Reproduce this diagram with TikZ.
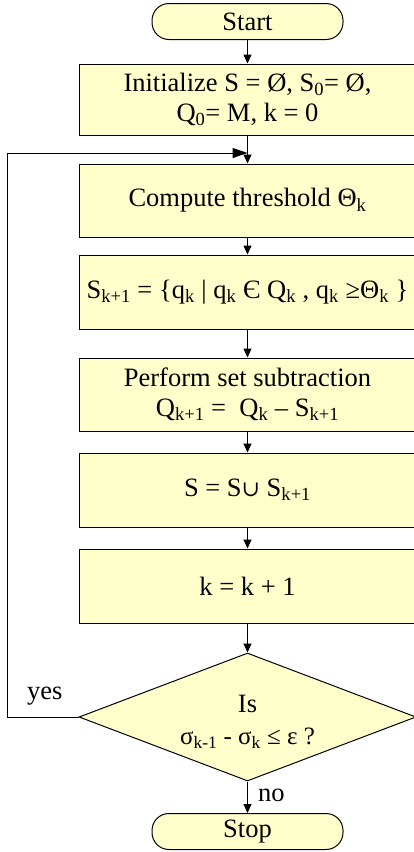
\documentclass[tikz,border=0pt]{standalone}
\usepackage{fontspec}
\setmainfont{Liberation Serif}
\newfontfamily\dvs{DejaVu Serif}
\usetikzlibrary{shapes.geometric,arrows.meta}
\definecolor{boxfill}{HTML}{FFFFCC}
\newcommand\sbs[1]{\textsubscript{#1}}
\begin{document}
\begin{tikzpicture}[x=1pt,y=-1pt,
  every node/.style={font=\fontsize{26.5}{30}\selectfont},
  procbox/.style={draw, fill=boxfill, line width=1pt, minimum width=337pt, align=center, inner sep=0pt},
  termbox/.style={draw, fill=boxfill, line width=1pt, rounded corners=17pt, minimum width=191pt, minimum height=36pt, inner sep=0pt},
  decbox/.style={draw, fill=boxfill, line width=1pt, diamond, aspect=2.625, minimum width=337pt, minimum height=128pt, inner sep=0pt, align=center},
  flow/.style={line width=1pt, -{Triangle[length=9pt,width=8pt]}},
  loopflow/.style={line width=1pt, -{Triangle[length=15pt,width=10pt]}},
  lbl/.style={inner sep=0pt}
]
\useasboundingbox (0,0) rectangle (414,852);
\clip (0,0) rectangle (414,852);
\node[termbox] (start) at (247.5,21.5) {Start};
\node[procbox, minimum height=71pt] (init) at (247.5,99.5) {Initialize S = Ø, S\sbs{0}= Ø,\\ Q\sbs{0}= M, k = 0};
\node[procbox, minimum height=73pt] (comp) at (247.5,200.5) {Compute threshold Θ\sbs{k}};
\node[procbox, minimum height=74pt] (sk) at (247.5,292) {S\sbs{k+1} = \{q\sbs{k} | q\sbs{k} Є Q\sbs{k} , q\sbs{k} ≥Θ\sbs{k} \}};
\node[procbox, minimum height=73pt] (perf) at (247.5,394.5) {Perform set subtraction\\ Q\sbs{k+1} =\ \ Q\sbs{k} – S\sbs{k+1}};
\node[procbox, minimum height=74pt] (un) at (247.5,490) {S = S{\dvs\fontsize{22}{26}\selectfont ∪} S\sbs{k+1}};
\node[procbox, minimum height=74pt] (kk) at (247.5,586) {k = k + 1};
\node[decbox] (dec) at (247.5,717) {};
\node[lbl] (is) at (247.5,704) {Is};
\node[lbl, font=\fontsize{25}{30}\selectfont] (cond) at (247.5,738) {σ\sbs{k-1} - σ\sbs{k} ≤ ε ?};
\node[termbox] (stop) at (247.5,831.5) {Stop};
\coordinate (join) at (247.5,153);
\coordinate (lefttop) at (7,153);
\coordinate (leftbot) at (7,717);
\draw[flow] (start) -- (init);
\draw[line width=1pt] (init.south) -- (join);
\draw[flow] (join) -- (comp.north);
\draw[flow] (comp) -- (sk);
\draw[flow] (sk) -- (perf);
\draw[flow] (perf) -- (un);
\draw[flow] (un) -- (kk);
\draw[flow] (kk) -- (dec.north);
\draw[flow] (dec.south) -- (stop.north);
\draw[loopflow] (dec.west) -- (leftbot) -- (lefttop) -- (join);
\node[lbl, anchor=base west] (yes) at (27,699) {yes};
\node[lbl, anchor=base west] (no) at (258,801) {no};
\end{tikzpicture}
\end{document}
